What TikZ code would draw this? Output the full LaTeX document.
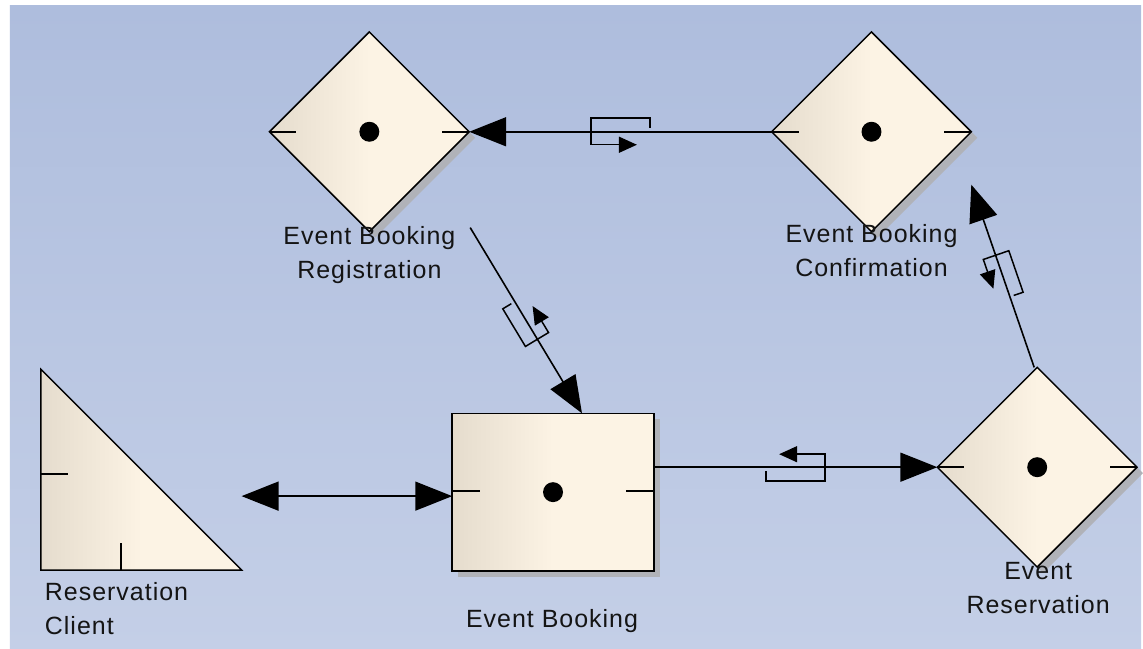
\documentclass[tikz,border=0pt]{standalone}
\usepackage{fontspec}
\setmainfont{Liberation Sans}[LetterSpace=4]
\usetikzlibrary{arrows.meta,shapes.geometric,calc}
\definecolor{bgtop}{RGB}{174,189,221}
\definecolor{bgbot}{RGB}{196,207,231}
\definecolor{fillL}{RGB}{229,220,205}
\definecolor{fillR}{RGB}{252,243,228}
\definecolor{shadegray}{RGB}{176,178,184}
\definecolor{txt}{RGB}{20,20,20}
\pgfdeclarelayer{shadowlayer}
\pgfdeclarelayer{bglayer}
\pgfsetlayers{bglayer,shadowlayer,main}
\tikzset{
  flowicon/.pic={
    \draw[line width=1.5pt, line join=miter, -{Triangle[length=18pt,width=16pt]}]
      ({-#1*1pt},-4pt) -- ({-#1*1pt},-14pt) -- ({#1*1pt},-14pt) -- ({#1*1pt},13pt) -- ({(13-#1)*1pt},13pt);
  }
}
\begin{document}
\begin{tikzpicture}[x=1pt,y=-1pt,
  shapefill/.style={left color=fillL, right color=fillR, middle color=fillR},
  elem/.style={draw=black, line width=1.5pt, inner sep=0pt, outer sep=0pt, shapefill},
  diam/.style={elem, diamond, minimum width=200pt, minimum height=200pt},
  boxst/.style={elem, rectangle, minimum width=202pt, minimum height=158pt},
  tick/.style={line width=1.5pt},
  conn/.style={line width=1.6pt, -{Triangle[length=37pt,width=29pt]}},
  dconn/.style={line width=1.6pt, {Triangle[length=37pt,width=29pt]}-{Triangle[length=37pt,width=29pt]}},
  lbl/.style={inner sep=0pt, outer sep=0pt, text=txt, font=\fontsize{25}{34}\selectfont},
  dot/.style={fill=black},
  shadowfill/.style={fill=shadegray}
]
\begin{pgfonlayer}{bglayer}
\useasboundingbox (0,0) rectangle (1143,650);
\fill[white] (0,0) rectangle (1143,650);
\fill[top color=bgtop, bottom color=bgbot] (10,6) rectangle (1143,650);
\end{pgfonlayer}

% elements
\node[diam] (ebr) at (370,132) {};
\node[diam] (ebc) at (873,132) {};
\node[diam] (er) at (1039,468) {};
\node[boxst] (eb) at (554,493) {};

% shadows
\begin{pgfonlayer}{shadowlayer}
\foreach \n in {ebr,ebc,er}{
  \fill[shadowfill] ($(\n.north)+(6,6)$) -- ($(\n.east)+(6,6)$) -- ($(\n.south)+(6,6)$) -- ($(\n.west)+(6,6)$) -- cycle;
}
\fill[shadowfill] ($(eb.north west)+(6,6)$) rectangle ($(eb.south east)+(6,6)$);
\end{pgfonlayer}

% triangle (Reservation Client)
\coordinate (rctop) at (41,370);
\coordinate (rcright) at (242,571);
\path[draw=black, line width=1.5pt, line join=miter, shapefill] (rctop) -- (rctop |- rcright) -- (rcright) -- cycle;
\draw[tick] ($(rctop)+(0,105)$) -- ++(27,0);
\draw[tick] ($(rctop |- rcright)+(80,0)$) -- ++(0,-27);
\coordinate (rcport) at (242,497);

% dots and ticks
\foreach \n in {ebr,ebc,er,eb}{
  \fill[dot] (\n.center) circle[radius=10pt];
}
\foreach \n in {ebr,ebc,er}{
  \draw[tick] (\n.west) -- ++(27,0);
  \draw[tick] (\n.east) -- ++(-27,0);
}
\draw[tick] ($(eb.west)+(0,-1)$) -- ++(28,0);
\draw[tick] ($(eb.east)+(0,-1)$) -- ++(-28,0);

% connectors
\draw[conn] (ebc.west) -- (ebr.east)
  pic[pos=0.5, sloped, allow upside down] {flowicon=29.5};
\coordinate (ebrout) at ($(ebr.east |- ebr.south)+(1,-4)$);
\coordinate (ebin) at ($(eb.north west)+(130,0)$);
\draw[conn] (ebrout) -- (ebin)
  pic[pos=0.5, sloped, allow upside down] {flowicon=22};
\draw[conn] (eb.east |- er.west) -- (er.west)
  pic[pos=0.5, sloped, allow upside down] {flowicon=29.5};
\coordinate (erout) at ($(er.north)+(-3,0)$);
\coordinate (ebcin) at ($(ebc.east)+(0,53)$);
\draw[conn] (erout) -- (ebcin)
  pic[pos=0.5, sloped, allow upside down] {flowicon=22};
\draw[dconn] (rcport) -- (eb.west |- rcport);

% labels
\node[lbl, anchor=north, align=center] (ebrl) at (370,227) {Event Booking\\Registration};
\node[lbl, anchor=north, align=center] (ebcl) at (873,225) {Event Booking\\Confirmation};
\node[lbl, anchor=north, align=center] (erl) at (1040,563) {Event\\Reservation};
\node[lbl, anchor=north] (ebl) at (553,610) {Event Booking};
\node[lbl, anchor=north west, align=left] (rcl) at (45,583) {Reservation\\Client};
\end{tikzpicture}
\end{document}
